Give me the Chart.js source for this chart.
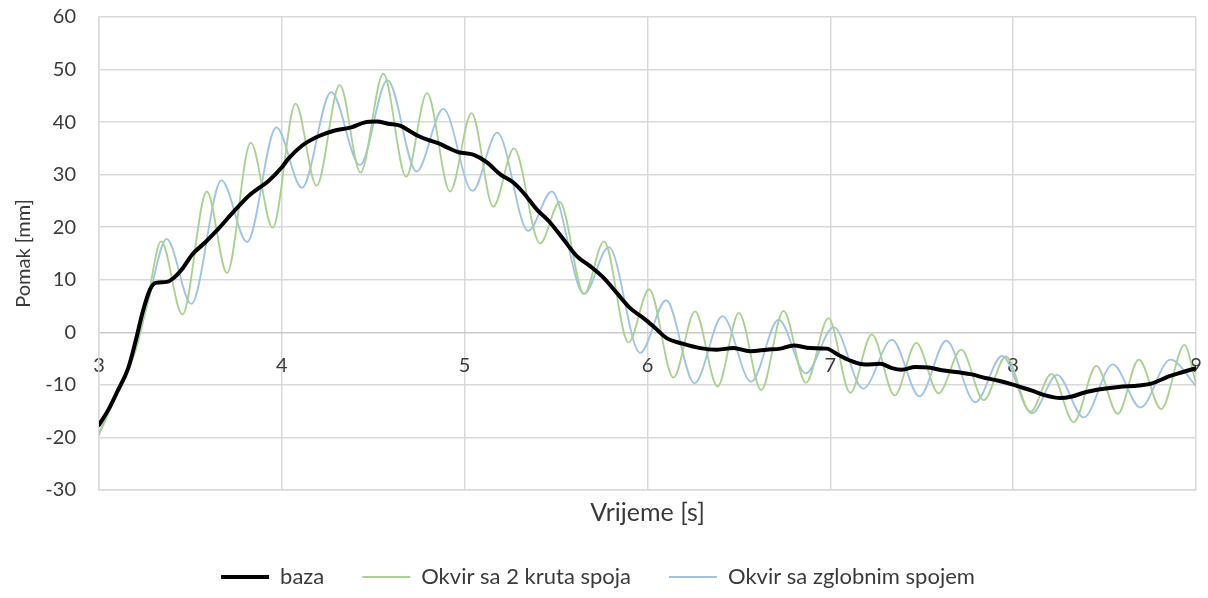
<!DOCTYPE html>
<html><head><meta charset="utf-8">
<script src="https://cdn.jsdelivr.net/npm/chart.js@4.4.1/dist/chart.umd.min.js"></script>
<style>html,body{margin:0;padding:0;background:#fff;}</style>
</head><body>
<canvas id="c" width="1208" height="598"></canvas>
<script>
const seriesNames = ['baza', 'Okvir sa 2 kruta spoja', 'Okvir sa zglobnim spojem'];
const xAxisTitle = 'Vrijeme [s]';
const yAxisTitle = 'Pomak [mm]';

const bazaT = [3.00,3.05,3.10,3.16,3.20,3.24,3.28,3.31,3.37,3.41,3.46,3.51,3.58,3.65,3.74,3.83,3.93,4.00,4.035,4.11,4.20,4.29,4.38,4.45,4.52,4.58,4.65,4.69,4.75,4.80,4.855,4.91,4.965,5.047,5.12,5.193,5.266,5.32,5.394,5.467,5.54,5.613,5.686,5.759,5.832,5.905,5.978,6.033,6.105,6.197,6.288,6.38,6.47,6.56,6.653,6.726,6.799,6.89,6.98,7.045,7.118,7.19,7.273,7.337,7.39,7.465,7.538,7.61,7.702,7.775,7.848,7.92,7.994,8.03,8.103,8.176,8.258,8.322,8.395,8.486,8.577,8.687,8.76,8.851,8.924,9.00];
const bazaV = [-17.6,-14.8,-11.3,-6.8,-1.7,4.0,8.2,9.4,9.6,10.4,12.3,14.8,17.1,19.6,23.1,26.3,28.9,31.4,33.0,35.5,37.3,38.4,39.0,39.9,40.1,39.7,39.3,38.5,37.3,36.6,36.0,35.1,34.3,33.8,32.4,30.1,28.5,26.6,23.4,20.9,17.7,14.5,12.6,10.4,7.5,4.6,2.7,1.1,-1.1,-2.2,-3.0,-3.3,-3.0,-3.6,-3.3,-3.1,-2.5,-3.0,-3.1,-4.3,-5.5,-6.1,-6.0,-6.8,-7.1,-6.6,-6.7,-7.2,-7.6,-8.0,-8.7,-9.2,-9.9,-10.3,-11.1,-12.0,-12.5,-12.2,-11.4,-10.8,-10.4,-10.1,-9.7,-8.4,-7.6,-6.8];

const krutiT = [3.00,3.10,3.20,3.26,3.34,3.456,3.59,3.70,3.83,3.95,4.075,4.19,4.317,4.43,4.555,4.68,4.794,4.92,5.038,5.156,5.27,5.412,5.52,5.653,5.762,5.896,6.009,6.142,6.26,6.383,6.50,6.622,6.744,6.866,6.99,7.109,7.227,7.352,7.47,7.592,7.716,7.839,7.96,8.094,8.21,8.331,8.455,8.572,8.687,8.81,8.937,9.00];
const krutiV = [-19.2,-11.5,-3.5,5.0,17.3,3.4,26.8,11.3,36.1,19.9,43.5,27.9,47.1,30.4,49.2,29.6,45.5,26.8,41.7,23.9,35.0,16.9,24.8,7.3,17.3,-1.9,8.2,-8.6,4.0,-10.3,3.7,-11.0,4.1,-9.6,2.7,-11.5,-0.4,-12.0,-2.0,-11.6,-3.3,-12.9,-4.6,-15.1,-7.9,-17.1,-6.4,-15.5,-5.2,-14.6,-2.4,-9.7];

const zglobT = [3.00,3.10,3.20,3.27,3.37,3.505,3.67,3.81,3.97,4.11,4.27,4.427,4.578,4.737,4.883,5.043,5.178,5.348,5.476,5.653,5.788,5.96,6.102,6.257,6.41,6.567,6.717,6.866,7.018,7.18,7.337,7.488,7.634,7.793,7.939,8.103,8.24,8.386,8.545,8.696,8.86,9.00];
const zglobV = [-19.5,-11.5,-3.0,6.0,17.8,5.4,28.9,17.2,39.0,27.5,45.7,31.8,48.0,30.6,42.5,26.9,38.0,19.3,26.8,7.3,16.2,-3.9,6.1,-9.7,3.1,-9.4,2.4,-7.8,1.0,-10.7,-1.4,-12.2,-1.6,-13.3,-4.5,-15.4,-8.1,-16.2,-6.1,-14.3,-5.2,-10.2];

const xMin = 3, xMax = 9, xStep = 1;
const yMin = -30, yMax = 60, yStep = 10;

const pts = (ts, vs) => ts.map((t, i) => ({x: t, y: vs[i]}));
const FONT = 'Lato, "Open Sans", sans-serif';
const TXT = '#3a3a3a';
const GRID = '#d9d9d9';

Chart.defaults.font.family = FONT;
Chart.defaults.color = TXT;

new Chart(document.getElementById('c'), {
  type: 'line',
  data: {
    datasets: [
      {label: seriesNames[0], data: pts(bazaT, bazaV), borderColor: '#000000', backgroundColor: '#000000', borderWidth: 4},
      {label: seriesNames[1], data: pts(krutiT, krutiV), borderColor: '#a9d18e', backgroundColor: '#a9d18e', borderWidth: 1.8},
      {label: seriesNames[2], data: pts(zglobT, zglobV), borderColor: '#9dc3e6', backgroundColor: '#9dc3e6', borderWidth: 1.8}
    ]
  },
  options: {
    responsive: false,
    animation: false,
    devicePixelRatio: 1,
    elements: {point: {radius: 0}, line: {cubicInterpolationMode: 'monotone', borderCapStyle: 'round', borderJoinStyle: 'round'}},
    layout: {padding: {top: 17, right: 12, left: 0, bottom: 0}},
    plugins: {
      tooltip: {enabled: false},
      legend: {
        position: 'bottom',
        labels: {usePointStyle: true, pointStyle: 'line', pointStyleWidth: 48, font: {size: 22, family: FONT}, color: TXT, padding: 38, boxHeight: 22}
      }
    },
    scales: {
      x: {
        type: 'linear', min: xMin, max: xMax,
        ticks: {display: false, stepSize: xStep},
        grid: {color: GRID, lineWidth: 1.5, drawTicks: false},
        border: {color: GRID, width: 1.5},
        title: {display: true, text: xAxisTitle, font: {size: 25, family: FONT}, color: TXT, padding: {top: 0, bottom: 0}},
        afterFit: (s) => { s.height = 38; s.paddingLeft = 0; s.paddingRight = 0; }
      },
      x2: {
        type: 'linear', min: xMin, max: xMax, position: {y: 0},
        ticks: {stepSize: xStep, font: {size: 20, family: FONT}, color: TXT, padding: 21, maxRotation: 0},
        grid: {display: false, drawTicks: false},
        border: {display: false},
        afterFit: (s) => { s.paddingLeft = 0; s.paddingRight = 0; s.paddingTop = 0; s.paddingBottom = 0; }
      },
      y: {
        type: 'linear', min: yMin, max: yMax,
        ticks: {stepSize: yStep, font: {size: 20, family: FONT}, color: TXT, padding: 23},
        grid: {color: (c) => c.tick && c.tick.value === 0 ? '#c8c8c8' : GRID, lineWidth: 1.5, drawTicks: false},
        border: {color: GRID, width: 1.5},
        title: {display: true, text: yAxisTitle, font: {size: 20, family: FONT}, color: TXT, padding: {top: 12, bottom: 0}},
        afterFit: (s) => { s.width = 99; s.paddingTop = 0; s.paddingBottom = 0; }
      }
    }
  }
});
</script>
</body></html>
